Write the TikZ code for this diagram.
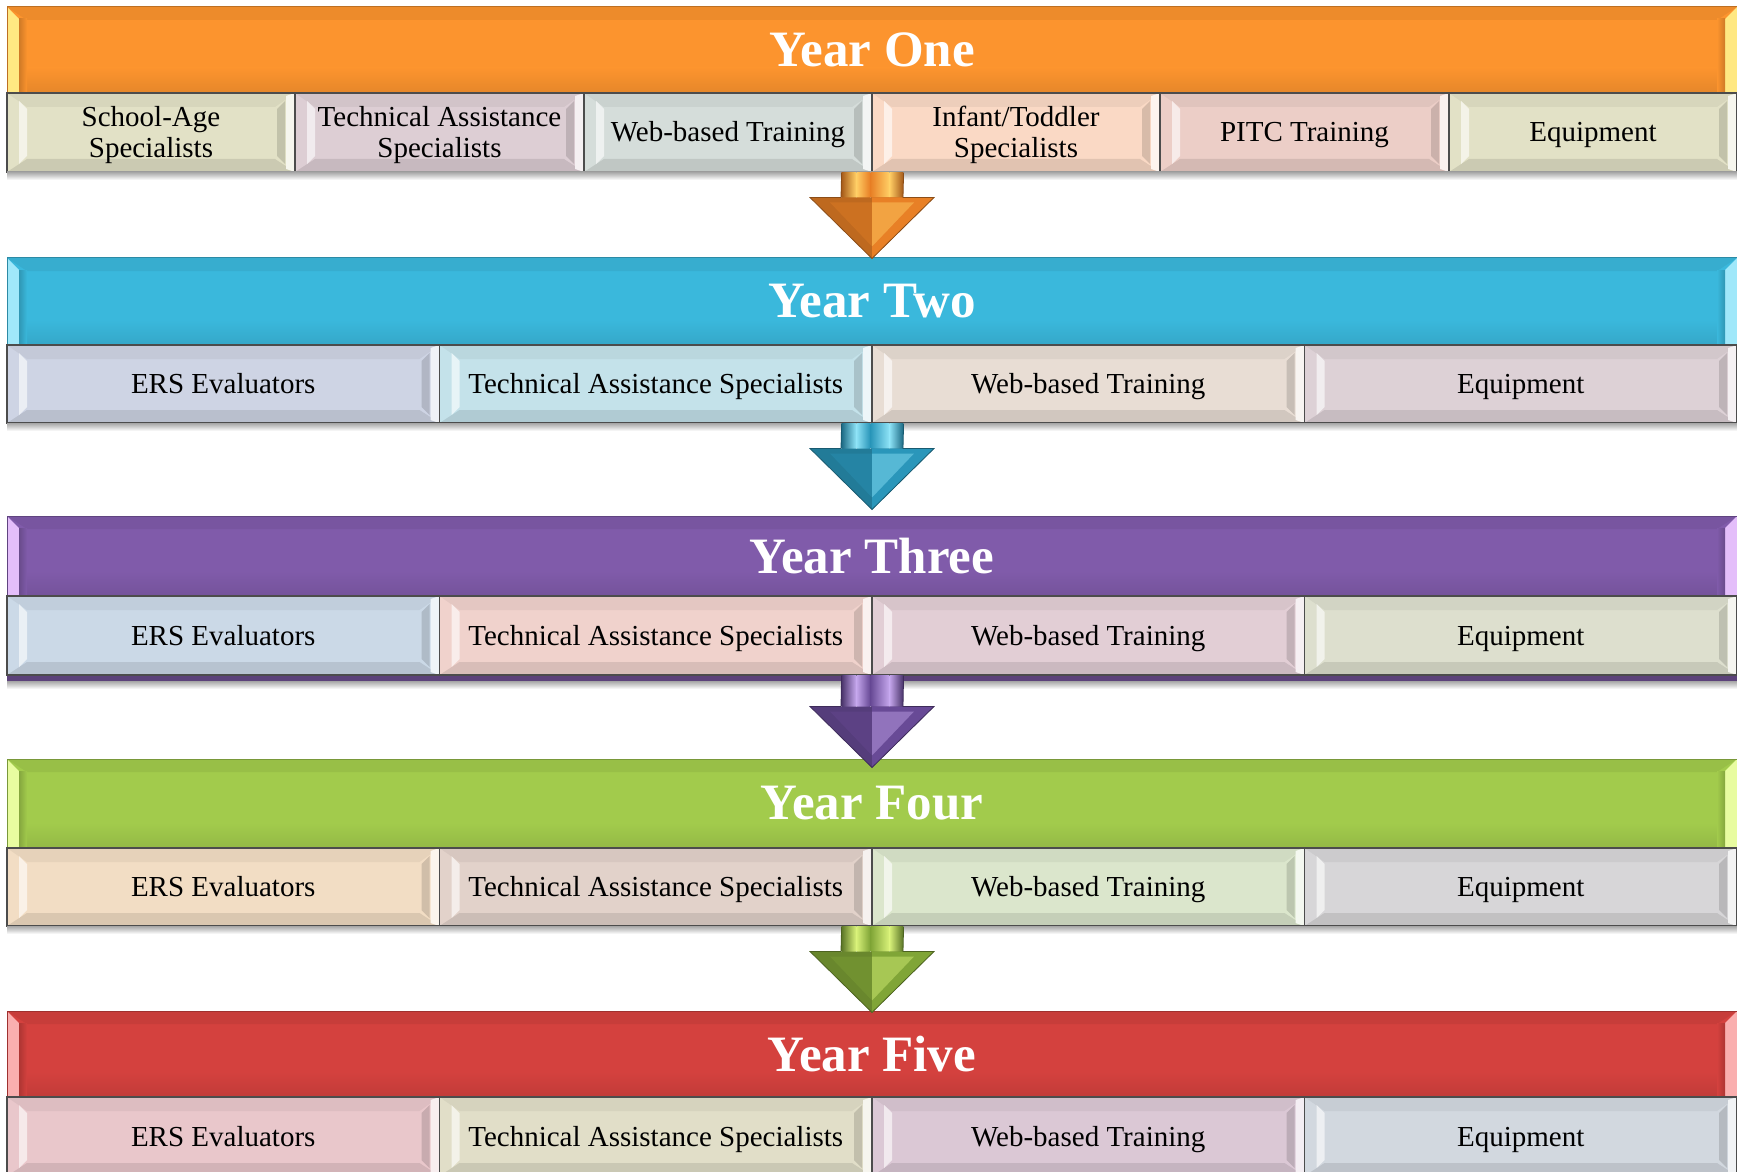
\documentclass[tikz,border=0pt]{standalone}
\usepackage{fontspec}
\setmainfont{Liberation Serif}
\usetikzlibrary{calc}

% year colours
\definecolor{yOne}{RGB}{252,148,46}   \definecolor{yOneL}{RGB}{255,232,130}
\definecolor{yTwo}{RGB}{58,184,220}   \definecolor{yTwoL}{RGB}{160,232,250}
\definecolor{yThree}{RGB}{128,91,170} \definecolor{yThreeL}{RGB}{228,190,250}
\definecolor{yFour}{RGB}{162,203,76}  \definecolor{yFourL}{RGB}{232,252,160}
\definecolor{yFive}{RGB}{212,65,62}   \definecolor{yFiveL}{RGB}{250,175,175}
% arrow colours
\definecolor{aOne}{RGB}{232,128,38}   \definecolor{aOneL}{RGB}{255,205,100}
\definecolor{aTwo}{RGB}{42,150,186}   \definecolor{aTwoL}{RGB}{140,225,245}
\definecolor{aThree}{RGB}{104,74,150} \definecolor{aThreeL}{RGB}{195,165,235}
\definecolor{aFour}{RGB}{128,165,55}  \definecolor{aFourL}{RGB}{215,240,120}
% item colours
\definecolor{cA}{RGB}{226,225,198}
\definecolor{cB}{RGB}{221,206,212}
\definecolor{cC}{RGB}{213,221,218}
\definecolor{cD}{RGB}{250,217,197}
\definecolor{cE}{RGB}{236,206,199}
\definecolor{cF}{RGB}{206,212,228}
\definecolor{cG}{RGB}{196,226,234}
\definecolor{cH}{RGB}{232,221,212}
\definecolor{cI}{RGB}{221,209,214}
\definecolor{cJ}{RGB}{203,217,231}
\definecolor{cK}{RGB}{240,210,204}
\definecolor{cL}{RGB}{226,206,213}
\definecolor{cM}{RGB}{221,223,206}
\definecolor{cN}{RGB}{242,221,196}
\definecolor{cO}{RGB}{226,210,202}
\definecolor{cP}{RGB}{219,230,204}
\definecolor{cQ}{RGB}{215,214,216}
\definecolor{cR}{RGB}{233,199,203}
\definecolor{cS}{RGB}{225,222,200}
\definecolor{cT}{RGB}{219,200,213}
\definecolor{cU}{RGB}{210,216,223}

\tikzset{
  subbox/.style={draw=black!70, line width=0.6pt, inner sep=0pt},
  subtext/.style={inner sep=0pt, align=center,
    font=\fontsize{14.5}{15.5}\selectfont, text=black},
  headbox/.style={line width=0.5pt, inner sep=0pt, minimum width=865pt,
    font=\fontsize{25.5}{28}\selectfont\bfseries, text=white},
}

% bevelled item box: name, x0, y0, x1, y1, colour, text
\newcommand\bevbox[7]{%
  \fill[#6] (#2,#3) rectangle (#4,#5);
  \fill[#6!95!black] (#2,#3) -- (#4,#3) -- ({#4-20},{#3+14}) -- ({#2+20},{#3+14}) -- cycle;
  \fill[#6!90!black] (#2,#5) -- (#4,#5) -- ({#4-20},{#5-13}) -- ({#2+20},{#5-13}) -- cycle;
  \fill[#6!40!white] ({#2+12},{#3+8}) -- ({#2+20},{#3+16}) -- ({#2+20},{#5-16}) -- ({#2+12},{#5-8}) -- cycle;
  \fill[#6!86!black] ({#4-18},{#3+16}) -- ({#4-10},{#3+8}) -- ({#4-10},{#5-8}) -- ({#4-18},{#5-16}) -- cycle;
  \fill[#6!30!white] ({#4-9},{#3+3}) -- (#4,#3) -- (#4,#5) -- ({#4-9},{#5-3}) -- cycle;
  \node[subbox, minimum width={(#4-#2)*0.5pt}, minimum height={(#5-#3)*0.5pt}]
    (#1) at ({(#2+#4)/2},{(#3+#5)/2}) {};
  \node[subtext] (#1t) at ($(#1.center)+(0,3.3)$) {\strut #7};
}

% year banner: name, y0, y1, colour, rim colour, text
\newcommand\headbar[6]{%
  \fill[#4] (7,#2) rectangle (1737,#3);
  \fill[#4!94!black] (7,#2) -- (1737,#2) -- (1717,{#2+13}) -- (27,{#2+13}) -- cycle;
  \shade[top color=#4, bottom color=#4!91!black] (27,{#3-25}) rectangle (1717,#3);
  \fill[#5] (7,#2) -- (19,{#2+12}) -- (19,#3) -- (7,#3) -- cycle;
  \shade[left color=#4!82!black, right color=#4] (19,{#2+12}) rectangle (27,#3);
  \fill[#5] (1737,#2) -- (1725,{#2+12}) -- (1725,#3) -- (1737,#3) -- cycle;
  \shade[left color=#4, right color=#4!82!black] (1717,{#2+12}) rectangle (1725,#3);
  \node[headbox, draw=#4!75!black, minimum height={(#3-#2)*0.5pt}]
    (#1) at (872,{(#2+#3)/2}) {#6};
}

% soft shadow under a row
\newcommand\rowshadow[1]{%
  \shade[top color=black!35, bottom color=white] (7,#1) rectangle (1737,{#1+8});
}

% block arrow from a row to the next banner: from node, to node, tip shift, colour, light
\newcommand\yeararrow[5]{%
  \coordinate (arrtop) at (#1);
  \coordinate (arrtip) at ($(#2)+(0,#3)$);
  \shade[left color=#4!72!black, right color=#5] ($(arrtop)+(-31,0)$) rectangle ($(arrtip)+(-16,-61)$);
  \shade[left color=#5, right color=#4] ($(arrtop)+(-16,0)$) rectangle ($(arrtip)+(-2,-61)$);
  \shade[left color=#4, right color=#5] ($(arrtop)+(-2,0)$) rectangle ($(arrtip)+(17,-61)$);
  \shade[left color=#5, right color=#4!72!black] ($(arrtop)+(17,0)$) rectangle ($(arrtip)+(31,-61)$);
  \fill[#4!82!black] ($(arrtip)+(-62,-61)$) -- ($(arrtip)+(62,-61)$) -- (arrtip) -- cycle;
  \fill[#4] ($(arrtip)+(0,-61)$) -- ($(arrtip)+(62,-61)$) -- (arrtip) -- cycle;
  \fill[#4!88!black] ($(arrtip)+(-42,-56)$) -- ($(arrtip)+(0,-56)$) -- ($(arrtip)+(0,-12)$) -- cycle;
  \fill[#5!45!#4] ($(arrtip)+(0,-56)$) -- ($(arrtip)+(42,-56)$) -- ($(arrtip)+(0,-12)$) -- cycle;
  \draw[#4!60!black, line width=0.4pt, line join=miter]
    ($(arrtop)+(-31,0)$) -- ($(arrtip)+(-31,-61)$) -- ($(arrtip)+(-62,-61)$) -- (arrtip)
    -- ($(arrtip)+(62,-61)$) -- ($(arrtip)+(31,-61)$) -- ($(arrtop)+(31,0)$);
}

\begin{document}
\begin{tikzpicture}[x=0.5pt,y=-0.5pt]
\useasboundingbox (0,0) rectangle (1737,1172);
\clip (0,0) rectangle (1737,1172);

% Year One
\headbar{h1}{7}{93}{yOne}{yOneL}{Year One}
\bevbox{r11}{7}{93}{295}{172}{cA}{School-Age\\\strut Specialists}
\bevbox{r12}{295}{93}{584}{172}{cB}{Technical Assistance\\\strut Specialists}
\bevbox{r13}{584}{93}{872}{172}{cC}{Web-based Training}
\bevbox{r14}{872}{93}{1160}{172}{cD}{Infant/Toddler\\\strut Specialists}
\bevbox{r15}{1160}{93}{1449}{172}{cE}{PITC Training}
\bevbox{r16}{1449}{93}{1737}{172}{cA}{Equipment}
\rowshadow{172}

% Year Two
\headbar{h2}{258}{345}{yTwo}{yTwoL}{Year Two}
\bevbox{r21}{7}{345}{439.5}{423}{cF}{ERS Evaluators}
\bevbox{r22}{439.5}{345}{872}{423}{cG}{Technical Assistance Specialists}
\bevbox{r23}{872}{345}{1304.5}{423}{cH}{Web-based Training}
\bevbox{r24}{1304.5}{345}{1737}{423}{cI}{Equipment}
\rowshadow{423}

% Year Three
\fill[yThree!72!black] (7,590) rectangle (1737,681);
\headbar{h3}{516}{596}{yThree}{yThreeL}{Year Three}
\bevbox{r31}{7}{596}{439.5}{675}{cJ}{ERS Evaluators}
\bevbox{r32}{439.5}{596}{872}{675}{cK}{Technical Assistance Specialists}
\bevbox{r33}{872}{596}{1304.5}{675}{cL}{Web-based Training}
\bevbox{r34}{1304.5}{596}{1737}{675}{cM}{Equipment}
\rowshadow{681}

% Year Four
\headbar{h4}{759}{848}{yFour}{yFourL}{Year Four}
\bevbox{r41}{7}{848}{439.5}{926}{cN}{ERS Evaluators}
\bevbox{r42}{439.5}{848}{872}{926}{cO}{Technical Assistance Specialists}
\bevbox{r43}{872}{848}{1304.5}{926}{cP}{Web-based Training}
\bevbox{r44}{1304.5}{848}{1737}{926}{cQ}{Equipment}
\rowshadow{926}

% Year Five
\headbar{h5}{1011}{1097}{yFive}{yFiveL}{Year Five}
\bevbox{r51}{7}{1097}{439.5}{1176}{cR}{ERS Evaluators}
\bevbox{r52}{439.5}{1097}{872}{1176}{cS}{Technical Assistance Specialists}
\bevbox{r53}{872}{1097}{1304.5}{1176}{cT}{Web-based Training}
\bevbox{r54}{1304.5}{1097}{1737}{1176}{cU}{Equipment}

% arrows between the years
\yeararrow{r13.south east}{h2.north}{1}{aOne}{aOneL}
\yeararrow{r22.south east}{h3.north}{-6}{aTwo}{aTwoL}
\yeararrow{r32.south east}{h4.north}{9}{aThree}{aThreeL}
\yeararrow{r42.south east}{h5.north}{2}{aFour}{aFourL}
\end{tikzpicture}
\end{document}
